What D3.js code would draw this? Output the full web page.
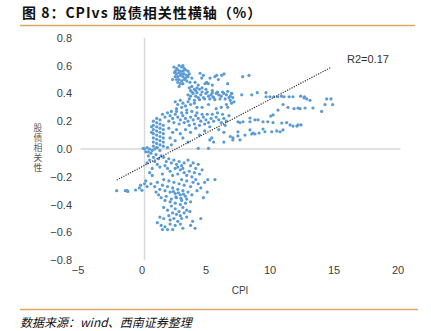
<!DOCTYPE html>
<html><head><meta charset="utf-8">
<script src="https://cdn.jsdelivr.net/npm/d3@7"></script>
<style>
body{margin:0;background:#fff;}
svg{display:block;font-family:"Liberation Sans",Arial,sans-serif;}
</style></head><body>
<svg id="c" width="431" height="331"></svg>
<script>
const titleText = "图 8：CPIvs 股债相关性横轴（%）";
const sourceText = "数据来源：wind、西南证券整理";
const xTicks = [-5, 0, 5, 10, 15, 20];
const yTicks = [0.8, 0.6, 0.4, 0.2, 0.0, -0.2, -0.4, -0.6, -0.8];
const yTitle = "股债相关性";
const xTitle = "CPI";
const r2Label = "R2=0.17";
const trendRange = [-2.17, 14.6];
const trendIntercept = -0.118;
const trendSlope = 0.0484;

const topBlob = [[2.3,0.59],[2.5,0.58],[2.7,0.6],[2.9,0.59],[3.1,0.58],[3.0,0.6],[2.4,0.56],[2.6,0.57],[2.8,0.56],[3.0,0.56],[3.2,0.57],[3.4,0.56],[2.5,0.54],[2.7,0.55],[2.9,0.54],[3.1,0.54],[3.3,0.53],[2.4,0.52],[2.6,0.52],[2.8,0.53],[3.0,0.52],[3.2,0.51],[2.5,0.5],[2.7,0.5],[2.9,0.49],[3.1,0.5],[3.3,0.49],[2.6,0.48],[2.8,0.47],[3.0,0.47],[2.7,0.45],[3.4,0.52],[2.35,0.55],[3.5,0.54],[2.2,0.5]];
const upperScatter = [[3.7,0.51],[3.55,0.48],[3.95,0.48],[4.34,0.545],[4.47,0.51],[4.6,0.53],[4.86,0.48],[4.98,0.47],[4.73,0.47],[5.12,0.51],[5.5,0.52],[5.64,0.53],[6.03,0.53],[6.21,0.54],[5.77,0.5],[7.67,0.52],[8.16,0.53],[4.2,0.46],[5.3,0.46],[6.5,0.47]];
const upperBand = [[3.5,0.44],[3.7,0.45],[3.9,0.43],[4.1,0.44],[4.3,0.43],[3.6,0.42],[4.0,0.42],[4.5,0.44],[4.8,0.43],[5.3,0.42],[3.4,0.39],[3.6,0.38],[3.8,0.4],[4.0,0.38],[4.2,0.37],[4.4,0.39],[4.6,0.37],[4.8,0.4],[5.0,0.38],[5.2,0.39],[5.4,0.37],[5.6,0.4],[5.8,0.39],[6.0,0.38],[6.2,0.4],[6.4,0.39],[6.6,0.37],[6.8,0.4],[3.5,0.36],[3.9,0.35],[4.3,0.355],[4.7,0.36],[5.1,0.36],[5.5,0.355],[5.9,0.36],[6.3,0.36],[3.7,0.41],[4.1,0.405],[4.9,0.41],[5.3,0.405],[5.7,0.41],[6.1,0.41],[6.5,0.415],[6.7,0.38],[4.5,0.41],[5.35,0.375],[6.9,0.37],[6.99,0.34],[7.59,0.39],[6.81,0.40]];
const midUpper = [[2.4,0.34],[2.6,0.32],[2.8,0.35],[3.0,0.33],[3.2,0.31],[3.4,0.34],[3.6,0.32],[3.9,0.33],[4.1,0.3],[2.5,0.29],[2.9,0.3],[3.3,0.28],[4.5,0.3],[5.0,0.32],[5.6,0.29],[6.4,0.32],[6.5,0.3],[6.7,0.35],[6.8,0.33],[6.0,0.3]];
const midBand = [[1.4,0.25],[1.6,0.23],[1.8,0.26],[2.0,0.24],[2.2,0.22],[2.4,0.25],[2.6,0.23],[2.8,0.21],[3.0,0.24],[3.2,0.22],[3.4,0.2],[3.6,0.23],[3.8,0.21],[4.0,0.24],[4.2,0.22],[4.4,0.2],[4.6,0.23],[4.8,0.21],[5.0,0.19],[5.2,0.22],[5.4,0.2],[5.6,0.23],[5.8,0.21],[6.0,0.19],[6.2,0.22],[6.4,0.2],[1.9,0.2],[2.3,0.19],[2.7,0.18],[3.1,0.19],[3.5,0.17],[3.9,0.18],[4.3,0.17],[4.7,0.18],[5.1,0.16],[2.1,0.27],[2.5,0.27],[2.9,0.26],[3.3,0.26],[3.7,0.27],[4.1,0.26],[4.5,0.25],[4.9,0.25],[5.3,0.25],[5.7,0.26],[6.1,0.25],[6.6,0.24],[6.3,0.17]];
const leftColumn = [[0.69,0.02],[0.69,0.05],[0.69,0.08],[0.69,0.11],[0.69,0.14],[0.69,0.17],[0.69,0.2],[0.95,0.01],[0.95,0.04],[0.95,0.07],[0.95,0.1],[0.95,0.13],[0.95,0.16],[0.95,0.19],[0.95,0.22],[1.21,0.03],[1.21,0.06],[1.21,0.09],[1.21,0.12],[1.21,0.15],[1.21,0.18],[1.21,0.21],[1.47,0.02],[1.47,0.05],[1.47,0.08],[1.47,0.11],[1.47,0.14],[1.47,0.17],[0.55,0.12],[0.55,0.16]];
const lowPositive = [[1.9,0.15],[2.2,0.12],[2.5,0.14],[2.0,0.08],[2.4,0.06],[2.8,0.11],[3.2,0.14],[3.0,0.08],[3.6,0.12],[4.0,0.15],[4.3,0.1],[4.7,0.13],[3.4,0.05],[5.25,0.08],[5.8,0.14],[6.2,0.12],[6.7,0.09],[2.1,0.03],[1.8,0.01],[5.4,0.05],[6.2,0.05],[6.9,0.065],[4.2,0.005],[5.0,0.005],[5.1,0.065]];
const nearZero = [[0.0,0.0],[0.2,0.01],[0.4,0.0],[0.6,-0.01],[0.8,0.0],[1.0,0.01],[1.2,-0.01],[0.3,-0.02],[-0.1,0.005]];
const rightGroup = [[8.38,0.39],[8.81,0.405],[9.49,0.405],[9.5,0.376],[9.8,0.376],[10.1,0.376],[10.4,0.376],[10.7,0.38],[10.9,0.376],[11.3,0.376],[11.6,0.376],[12.2,0.38],[12.5,0.376],[12.46,0.367],[12.67,0.36],[12.93,0.35],[13.16,0.295],[13.84,0.27],[14.23,0.36],[14.57,0.36],[14.1,0.32],[14.7,0.32],[10.43,0.28],[10.82,0.32],[11.21,0.3],[11.68,0.29],[11.99,0.295],[12.15,0.29],[12.54,0.295],[10.04,0.245],[9.86,0.237],[9.26,0.196],[8.87,0.21],[8.63,0.21],[8.24,0.223],[8.24,0.196],[7.7,0.196],[7.46,0.19],[7.3,0.196],[9.63,0.196],[10.04,0.19],[10.72,0.187],[11.1,0.19],[11.37,0.173],[11.6,0.165],[11.9,0.165],[12.0,0.173],[12.23,0.173],[9.94,0.124],[10.33,0.13],[10.59,0.124],[10.82,0.137],[9.26,0.144],[9.41,0.124],[8.24,0.137],[8.38,0.108],[8.48,0.115],[8.63,0.108],[7.85,0.1],[7.3,0.124],[7.3,0.094],[6.91,0.08],[7.46,0.065],[8.95,0.115]];
const negUpper = [[0.1,-0.02],[0.3,-0.05],[0.5,-0.03],[0.7,-0.06],[0.9,-0.04],[1.1,-0.07],[1.3,-0.05],[0.4,-0.08],[0.8,-0.09],[1.5,-0.06],[1.7,-0.09],[1.9,-0.07],[2.1,-0.1],[2.3,-0.08],[2.5,-0.11],[2.7,-0.09],[2.9,-0.12],[3.1,-0.1],[2.6,-0.13],[2.8,-0.15],[3.0,-0.14],[2.4,-0.14],[1.6,-0.12],[1.8,-0.14],[2.0,-0.16],[1.2,-0.13],[1.0,-0.11],[3.4,-0.08],[3.6,-0.12],[3.8,-0.1],[4.0,-0.14],[4.2,-0.11],[3.5,-0.16],[3.9,-0.17],[4.3,-0.18],[3.3,-0.19],[3.7,-0.2],[2.2,-0.19],[2.6,-0.18],[3.1,-0.17],[1.4,-0.18],[4.5,-0.15],[0.6,-0.14],[0.2,-0.1],[0.4,-0.17],[0.6,-0.19]];
const negMiddle = [[0.5,-0.25],[0.8,-0.27],[1.0,-0.24],[1.2,-0.29],[1.4,-0.26],[1.6,-0.3],[1.8,-0.27],[2.0,-0.31],[2.2,-0.28],[2.4,-0.32],[2.6,-0.29],[2.8,-0.33],[3.0,-0.3],[3.2,-0.34],[3.4,-0.31],[3.6,-0.27],[3.8,-0.24],[4.0,-0.22],[4.2,-0.25],[2.9,-0.22],[3.3,-0.23],[3.1,-0.26],[2.7,-0.25],[2.3,-0.24],[1.9,-0.23],[1.5,-0.22],[1.1,-0.33],[1.3,-0.35],[1.7,-0.34],[2.1,-0.36],[2.5,-0.35],[2.9,-0.37],[3.3,-0.36],[3.7,-0.33],[4.1,-0.3],[4.4,-0.28],[4.7,-0.24],[4.94,-0.22],[5.5,-0.22],[4.9,-0.31],[4.6,-0.35],[2.0,-0.38],[2.4,-0.39],[2.8,-0.4],[3.2,-0.39],[3.6,-0.38],[1.6,-0.37],[0.9,-0.31],[2.25,-0.305],[2.65,-0.315],[3.05,-0.325],[2.45,-0.345],[2.85,-0.355]];
const negLower = [[1.5,-0.42],[1.8,-0.44],[2.1,-0.41],[2.4,-0.43],[2.7,-0.45],[3.0,-0.42],[3.3,-0.44],[2.2,-0.46],[2.5,-0.47],[2.8,-0.48],[3.1,-0.46],[1.9,-0.48],[1.2,-0.49],[1.5,-0.5],[2.0,-0.51],[2.3,-0.5],[2.6,-0.52],[2.9,-0.5],[3.3,-0.49],[3.55,-0.45],[3.76,-0.52],[3.95,-0.57],[4.4,-0.5],[1.0,-0.53],[1.3,-0.55],[1.6,-0.56],[1.8,-0.58],[1.4,-0.58],[2.0,-0.54],[2.4,-0.55],[2.8,-0.54],[3.0,-0.57],[3.6,-0.55],[2.2,-0.58]];
const leftTail = [[-2.17,-0.3],[-1.5,-0.3],[-1.35,-0.3],[-1.3,-0.305],[-0.7,-0.295],[-0.4,-0.28],[-0.2,-0.297],[-0.3,-0.26],[0.0,-0.25],[0.2,-0.27],[0.1,-0.23]];

const points = [].concat(topBlob, upperScatter, upperBand, midUpper, midBand, leftColumn, lowPositive, nearZero, rightGroup, negUpper, negMiddle, negLower, leftTail);

const svg = d3.select("#c");
const x = d3.scaleLinear().domain([-5, 20]).range([80.5, 400.5]);
const y = d3.scaleLinear().domain([-0.8, 0.8]).range([260.2, 37.8]);
const gold = "#d6a862";

// title + rules
svg.append("text").attr("x", 22).attr("y", 18).attr("font-size", 14).attr("font-weight", "bold")
  .attr("letter-spacing", 1).attr("font-family", "'Noto Sans CJK SC',sans-serif").attr("fill", "#111").text(titleText);
svg.append("line").attr("x1", 20).attr("x2", 415).attr("y1", 25.5).attr("y2", 25.5).attr("stroke", gold).attr("stroke-width", 1.3);
svg.append("line").attr("x1", 20).attr("x2", 418).attr("y1", 309.5).attr("y2", 309.5).attr("stroke", gold).attr("stroke-width", 1.3);
svg.append("text").attr("x", 20).attr("y", 327).attr("font-size", 12).attr("font-style", "italic")
  .attr("font-family", "'Noto Sans CJK SC',sans-serif").attr("fill", "#111").text(sourceText);

// axis lines crossing at zero
svg.append("line").attr("x1", x(-5)).attr("x2", x(20)).attr("y1", y(0)).attr("y2", y(0)).attr("stroke", "#d9d9d9").attr("stroke-width", 1.5);
svg.append("line").attr("x1", x(0)).attr("x2", x(0)).attr("y1", y(0.8)).attr("y2", y(-0.8)).attr("stroke", "#d9d9d9").attr("stroke-width", 1.5);

// tick labels via axes
const yAxis = d3.axisLeft(y).tickValues(yTicks).tickSize(0).tickPadding(0)
  .tickFormat(d => d3.format(".1f")(d).replace("-", "\u2212"));
svg.append("g").attr("transform", "translate(72,0)").call(yAxis)
  .call(g => g.select(".domain").remove())
  .call(g => g.selectAll("text").attr("font-size", 11).attr("fill", "#404040").attr("font-family", "'Liberation Sans',Arial,sans-serif"));
const xAxis = d3.axisBottom(x).tickValues(xTicks).tickSize(0).tickPadding(0)
  .tickFormat(d => String(d).replace("-", "\u2212"));
svg.append("g").attr("transform", "translate(-3,266)").call(xAxis)
  .call(g => g.select(".domain").remove())
  .call(g => g.selectAll("text").attr("font-size", 11).attr("fill", "#404040").attr("font-family", "'Liberation Sans',Arial,sans-serif"));

// axis titles
svg.append("text").attr("x", 240).attr("y", 294).attr("text-anchor", "middle").attr("font-size", 10)
  .attr("fill", "#404040").text(xTitle);
svg.append("text").attr("x", 38).attr("y", 123)
  .style("writing-mode", "vertical-rl").style("text-orientation", "upright")
  .attr("letter-spacing", 1.2).attr("font-size", 8.8).attr("fill", "#595959")
  .attr("font-family", "'Noto Sans CJK SC',sans-serif").text(yTitle);

// points
svg.append("g").selectAll("circle").data(points).join("circle")
  .attr("cx", d => x(d[0])).attr("cy", d => y(d[1])).attr("r", 1.6).attr("fill", "#5b9bd5");

// trendline
svg.append("line")
  .attr("x1", x(trendRange[0])).attr("y1", y(trendIntercept + trendSlope * trendRange[0]))
  .attr("x2", x(trendRange[1])).attr("y2", y(trendIntercept + trendSlope * trendRange[1]))
  .attr("stroke", "#333").attr("stroke-width", 1.2).attr("stroke-dasharray", "1.2,1.3");
svg.append("text").attr("x", 347).attr("y", 63).attr("font-size", 11).attr("fill", "#333").text(r2Label);
</script>
</body></html>
